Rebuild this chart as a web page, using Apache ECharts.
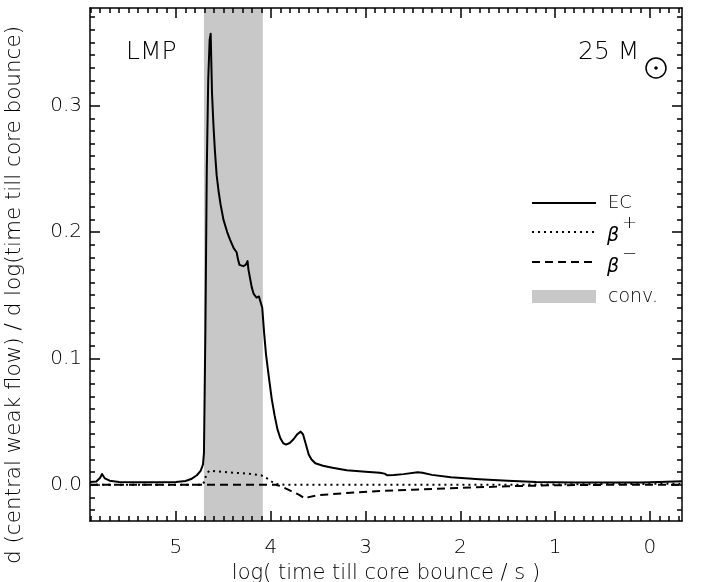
<!DOCTYPE html>
<html>
<head>
<meta charset="utf-8">
<script src="https://cdn.jsdelivr.net/npm/echarts@6/dist/echarts.min.js"></script>
<style>
  html, body { margin: 0; padding: 0; background: #fff; }
  #chart { width: 706px; height: 582px; }
</style>
</head>
<body>
<div id="chart"></div>
<script>
// axis ranges (x is log time till bounce, drawn reversed)
const xMin = -0.338, xMax = 5.907;
const yMin = -0.0287, yMax = 0.3773;
const xMajor = [0, 1, 2, 3, 4, 5];
const yMajor = [0, 0.1, 0.2, 0.3];
// convective phase
const convFrom = 4.705, convTo = 4.084;

// EC (electron capture)
const ecX = [5.907, 5.84, 5.80, 5.78, 5.75, 5.70, 5.60, 5.40, 5.20, 5.00, 4.90, 4.84, 4.78, 4.74, 4.715, 4.705,
  4.69, 4.675, 4.66, 4.645, 4.634, 4.62, 4.605, 4.59, 4.571, 4.55, 4.53, 4.50, 4.46, 4.43, 4.39, 4.36,
  4.345, 4.33, 4.29, 4.265, 4.245, 4.235, 4.22, 4.20, 4.18, 4.15, 4.125, 4.107, 4.09, 4.07, 4.05, 4.02,
  3.99, 3.96, 3.93, 3.90, 3.87, 3.84, 3.80, 3.76, 3.72, 3.685, 3.66, 3.63, 3.60, 3.57, 3.53, 3.45, 3.35,
  3.20, 3.00, 2.85, 2.80, 2.77, 2.70, 2.60, 2.45, 2.40, 2.30, 2.10, 1.80, 1.50, 1.20, 0.80, 0.40, 0.10,
  -0.10, -0.338];
const ecY = [0.0021, 0.0025, 0.0055, 0.0085, 0.005, 0.0032, 0.0022, 0.0020, 0.0020, 0.0021, 0.0030, 0.0045, 0.0075, 0.011, 0.016, 0.025,
  0.12, 0.25, 0.32, 0.352, 0.357, 0.31, 0.285, 0.265, 0.245, 0.232, 0.222, 0.210, 0.200, 0.194, 0.187, 0.184,
  0.178, 0.174, 0.173, 0.174, 0.177, 0.170, 0.164, 0.156, 0.151, 0.148, 0.149, 0.150, 0.140, 0.120, 0.103, 0.085,
  0.068, 0.055, 0.044, 0.037, 0.033, 0.0318, 0.033, 0.036, 0.040, 0.042, 0.040, 0.032, 0.024, 0.020, 0.017, 0.015, 0.0135,
  0.0115, 0.0103, 0.0094, 0.0088, 0.0075, 0.0077, 0.0084, 0.0098, 0.0095, 0.0078, 0.006, 0.0044, 0.0032, 0.0022, 0.0018, 0.0017, 0.0018,
  0.0021, 0.0027];

// beta+
const bpX = [5.907, 4.72, 4.705, 4.68, 4.65, 4.55, 4.43, 4.25, 4.10, 4.04, 3.98, 3.94, 3.85, 1.5, 0.5, -0.338];
const bpY = [0, 0, 0.002, 0.008, 0.011, 0.0105, 0.0097, 0.0088, 0.0075, 0.005, 0.002, 0.0005, 0, 0, 0.0005, 0.0008];

// beta-
const bmX = [5.907, 3.95, 3.90, 3.80, 3.70, 3.64, 3.60, 3.50, 3.20, 2.85, 2.50, 2.00, 1.50, 1.00, 0.50, -0.338];
const bmY = [0, 0, -0.001, -0.0045, -0.008, -0.011, -0.0098, -0.0082, -0.0066, -0.0050, -0.0040, -0.0025, -0.0012, -0.0004, -0.0001, 0];

// minor tick positions
const xMinor = [];
for (let i = -3; i <= 59; i++) if (i % 10 !== 0) xMinor.push(i / 10);
const yMinor = [];
for (let i = -2; i <= 37; i++) if (i % 10 !== 0) yMinor.push(i / 100);

const pairs = (xs, ys) => xs.map((x, i) => [x, ys[i]]);
const FONT = "'DejaVu Sans', sans-serif";
const W = 200; // thin strokes like the original plot font
const tickStyle = { color: '#000', width: 1.5 };

function xAxisDef(pos, ticks, len, labels, line) {
  return {
    type: 'value', inverse: true, min: xMin, max: xMax, position: pos, z: 5,
    axisLine: { show: line, onZero: false, lineStyle: { color: '#000', width: 1.5 } },
    axisTick: { inside: true, length: len, customValues: ticks, lineStyle: tickStyle },
    axisLabel: labels ? { customValues: xMajor, color: '#000', fontSize: 20, fontWeight: W, fontFamily: FONT, margin: 17 } : { show: false },
    splitLine: { show: false }
  };
}
function yAxisDef(pos, ticks, len, labels, line) {
  return {
    type: 'value', min: yMin, max: yMax, position: pos, z: 5,
    axisLine: { show: line, onZero: false, lineStyle: { color: '#000', width: 1.5 } },
    axisTick: { inside: true, length: len, customValues: ticks, lineStyle: tickStyle },
    axisLabel: labels ? { customValues: yMajor, color: '#000', fontSize: 20, fontWeight: W, fontFamily: FONT, margin: 8,
      formatter: (v) => v.toFixed(1) } : { show: false },
    splitLine: { show: false }
  };
}

const xAxes = [
  xAxisDef('bottom', xMajor, 10, true, true),
  xAxisDef('bottom', xMinor, 5, false, false),
  xAxisDef('top', xMajor, 10, false, true),
  xAxisDef('top', xMinor, 5, false, false)
];
xAxes[0].name = 'log( time till core bounce / s )';
xAxes[0].nameLocation = 'middle';
xAxes[0].nameGap = 37;
xAxes[0].nameTextStyle = { color: '#000', fontSize: 21, fontWeight: W, fontFamily: FONT };

const yAxes = [
  yAxisDef('left', yMajor, 10, true, true),
  yAxisDef('left', yMinor, 5, false, false),
  yAxisDef('right', yMajor, 10, false, true),
  yAxisDef('right', yMinor, 5, false, false)
];

const txt = (size, style) => (style || '') + ' ' + W + ' ' + size + 'px ' + FONT;

const chart = echarts.init(document.getElementById('chart'));
chart.setOption({
  animation: false,
  backgroundColor: '#fff',
  grid: { left: 90, right: 24, top: 8, bottom: 61, containLabel: false, outerBoundsMode: 'none' },
  xAxis: xAxes,
  yAxis: yAxes,
  series: [
    {
      name: 'conv.', type: 'line', data: [], z: 1,
      markArea: {
        silent: true,
        itemStyle: { color: '#c8c8c8', opacity: 1 },
        data: [[{ xAxis: convFrom }, { xAxis: convTo }]]
      }
    },
    {
      name: 'beta-', type: 'line', data: pairs(bmX, bmY), showSymbol: false, z: 2,
      lineStyle: { color: '#000', width: 2, type: [8, 5] }
    },
    {
      name: 'beta+', type: 'line', data: pairs(bpX, bpY), showSymbol: false, z: 2,
      lineStyle: { color: '#000', width: 2, type: [2, 4] }
    },
    {
      name: 'EC', type: 'line', data: pairs(ecX, ecY), showSymbol: false, z: 3,
      smooth: false,
      lineStyle: { color: '#000', width: 2, join: 'round' }
    }
  ],
  graphic: [
    { type: 'text', x: 14, y: 295, rotation: Math.PI / 2,
      style: { text: 'd (central weak flow) / d log(time till core bounce)', fill: '#000',
        font: txt(21.5), align: 'center', verticalAlign: 'middle' } },
    { type: 'text', x: 126, y: 52,
      style: { text: 'LMP', fill: '#000', font: txt(25), align: 'left', verticalAlign: 'middle' } },
    { type: 'text', x: 578, y: 52,
      style: { text: '25 M', fill: '#000', font: txt(25), align: 'left', verticalAlign: 'middle' } },
    { type: 'circle', shape: { cx: 656, cy: 68, r: 10 }, style: { fill: 'none', stroke: '#000', lineWidth: 1.5 } },
    { type: 'circle', shape: { cx: 656, cy: 68, r: 1.8 }, style: { fill: '#000' } },
    // legend
    { type: 'line', shape: { x1: 532, y1: 203, x2: 596, y2: 203 }, style: { stroke: '#000', lineWidth: 2 } },
    { type: 'line', shape: { x1: 532, y1: 232, x2: 596, y2: 232 }, style: { stroke: '#000', lineWidth: 2, lineDash: [2, 4] } },
    { type: 'line', shape: { x1: 532, y1: 262, x2: 596, y2: 262 }, style: { stroke: '#000', lineWidth: 2, lineDash: [8, 5] } },
    { type: 'rect', shape: { x: 532, y: 290, width: 64, height: 13 }, style: { fill: '#c8c8c8' } },
    { type: 'text', x: 608, y: 203,
      style: { text: 'EC', fill: '#000', font: txt(18), verticalAlign: 'middle' } },
    { type: 'text', x: 607, y: 236, style: { text: 'β', fill: '#000', font: txt(19, 'italic'), verticalAlign: 'middle' } },
    { type: 'text', x: 622, y: 223, style: { text: '+', fill: '#000', font: txt(18), verticalAlign: 'middle' } },
    { type: 'text', x: 607, y: 267, style: { text: 'β', fill: '#000', font: txt(19, 'italic'), verticalAlign: 'middle' } },
    { type: 'text', x: 622, y: 254, style: { text: '−', fill: '#000', font: txt(18), verticalAlign: 'middle' } },
    { type: 'text', x: 608, y: 297,
      style: { text: 'conv.', fill: '#000', font: txt(19), verticalAlign: 'middle' } }
  ]
});
</script>
</body>
</html>
